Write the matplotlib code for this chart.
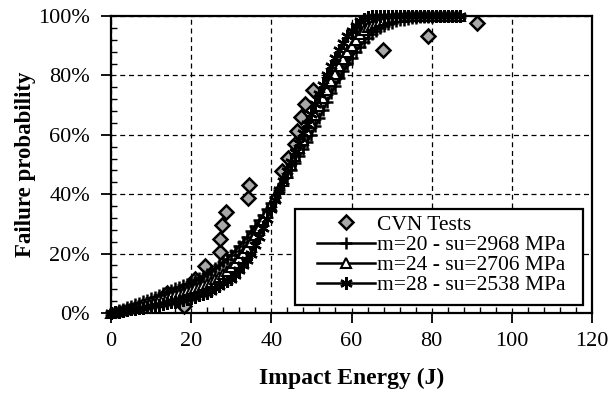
import matplotlib
matplotlib.use("Agg")
import matplotlib.pyplot as plt
from matplotlib.ticker import MultipleLocator, PercentFormatter
from matplotlib.patches import Rectangle

# ---- data ----
energy = list(range(0, 88))  # J

p_m20 = [0, 0.5, 1.0, 1.5, 2.0, 2.5, 3.0, 3.5, 4.0, 4.5,
         5.0, 5.5, 6.0, 6.6, 7.1, 7.7, 8.3, 8.8, 9.4, 9.9,
         10.5, 11.1, 11.8, 12.5, 13.2, 14.0, 15.0, 16.0, 17.1, 18.3,
         19.5, 21.0, 22.5, 24.0, 25.7, 27.5, 29.3, 31.2, 33.1, 35.0,
         37.0, 39.2, 41.4, 43.6, 45.8, 48.0, 50.4, 52.8, 55.2, 57.6,
         60.0, 62.8, 65.6, 68.4, 71.2, 74.0, 76.5, 79.0, 81.5, 83.8,
         86.0, 87.9, 89.6, 91.2, 92.7, 94.0, 95.1, 96.0, 96.7, 97.3,
         97.8, 98.2, 98.5, 98.8, 99.0, 99.2, 99.4, 99.5, 99.6, 99.7,
         99.8, 99.85, 99.9, 99.95, 100, 100, 100, 100]

p_m24 = [0, 0.35, 0.7, 1.1, 1.45, 1.8, 2.15, 2.5, 2.9, 3.25,
         3.6, 4.0, 4.4, 4.8, 5.2, 5.6, 6.0, 6.4, 6.9, 7.3,
         7.8, 8.3, 8.8, 9.4, 9.9, 10.5, 11.3, 12.2, 13.2, 14.3,
         15.5, 17.0, 18.5, 20.2, 22.0, 24.0, 26.3, 28.7, 31.2, 33.8,
         36.5, 39.2, 41.9, 44.6, 47.3, 50.0, 52.8, 55.6, 58.4, 61.2,
         64.0, 66.8, 69.6, 72.4, 75.2, 78.0, 80.5, 83.0, 85.4, 87.8,
         90.0, 92.0, 93.8, 95.2, 96.2, 97.0, 97.7, 98.3, 98.8, 99.1,
         99.4, 99.6, 99.7, 99.8, 99.85, 99.9, 99.95, 100, 100, 100,
         100, 100, 100, 100, 100, 100, 100, 100]

p_m28 = [0, 0.25, 0.5, 0.7, 0.95, 1.2, 1.4, 1.65, 1.85, 2.1,
         2.3, 2.55, 2.8, 3.05, 3.3, 3.6, 3.85, 4.1, 4.4, 4.7,
         5.0, 5.4, 5.9, 6.4, 6.9, 7.5, 8.3, 9.1, 10.0, 10.7,
         11.5, 12.9, 14.5, 16.2, 18.0, 20.0, 22.8, 25.7, 28.7, 31.8,
         35.0, 38.2, 41.4, 44.6, 47.8, 51.0, 54.2, 57.4, 60.6, 63.8,
         67.0, 70.3, 73.6, 76.8, 80.0, 83.0, 85.8, 88.5, 91.0, 93.2,
         95.0, 96.8, 98.3, 99.1, 99.6, 99.85, 100, 100, 100, 100,
         100, 100, 100, 100, 100, 100, 100, 100, 100, 100,
         100, 100, 100, 100, 100, 100, 100, 100]

cvn_energy = [18.3, 14.0, 21.0, 23.5, 27.2, 27.2, 27.7, 28.7, 34.3, 34.5, 42.7,
              44.1, 45.8, 46.3, 47.3, 48.5, 50.3, 56.0, 58.0, 67.8, 79.1, 91.3]
cvn_prob = [2.3, 6.8, 11.4, 15.9, 20.5, 25.0, 29.5, 34.1, 38.6, 43.2, 47.7,
            52.3, 56.8, 61.4, 65.9, 70.5, 75.0, 79.5, 84.1, 88.6, 93.2, 97.7]

series_labels = ["CVN Tests", "m=20 - su=2968 MPa", "m=24 - su=2706 MPa", "m=28 - su=2538 MPa"]

x_ticks = [0, 20, 40, 60, 80, 100, 120]
y_ticks = [0, 20, 40, 60, 80, 100]

# ---- figure ----
plt.rcParams['font.family'] = ['Liberation Serif', 'DejaVu Serif']
fig = plt.figure(figsize=(6.13, 3.98), dpi=100)
ax = fig.add_axes([111 / 613, 1 - 313 / 398, 481 / 613, 297 / 398])

ax.plot(cvn_energy, cvn_prob, linestyle='none', marker='D', ms=7.5,
        mfc='#a8a8a8', mec='black', mew=1.8, zorder=3, label=series_labels[0],
        clip_on=False)
ax.plot(energy, p_m20, color='black', lw=1.8, marker='+', ms=9, mew=1.8,
        zorder=4, label=series_labels[1], clip_on=False)
ax.plot(energy, p_m24, color='black', lw=1.8, marker='^', ms=6.5, mew=1.5,
        mfc='white', mec='black', zorder=4, label=series_labels[2], clip_on=False)
ax.plot(energy, p_m28, color='black', lw=1.8, marker=(6, 2, 0), ms=9, mew=1.7,
        zorder=4, label=series_labels[3], clip_on=False)

ax.set_xlim(0, 120)
ax.set_ylim(0, 100)
ax.set_xticks(x_ticks)
ax.set_yticks(y_ticks)
ax.xaxis.set_minor_locator(MultipleLocator(4))
ax.yaxis.set_minor_locator(MultipleLocator(4))
ax.yaxis.set_major_formatter(PercentFormatter(decimals=0))

ax.tick_params(which='major', direction='out', length=7, width=1.3,
               labelsize=16, pad=7, colors='black')
ax.tick_params(axis='y', which='major', pad=8)
ax.tick_params(which='minor', direction='in', length=4, width=1.0)
ax.tick_params(top=False, right=False, which='both')

ax.grid(True, which='major', color='black', linestyle=(0, (4, 3)), lw=0.9)
ax.set_axisbelow(True)
for s in ax.spines.values():
    s.set_linewidth(1.6)
    s.set_color('black')

ax.set_xlabel("Impact Energy (J)", fontsize=17, fontweight='bold', labelpad=12)
ax.set_ylabel("Failure probability", fontsize=16.5, fontweight='bold', labelpad=2)

# legend box (white, black border) in axes fraction
box = Rectangle((0.3825, 0.027), 0.5985, 0.323, transform=ax.transAxes,
                facecolor='white', edgecolor='black', lw=1.6, zorder=9,
                clip_on=False)
ax.add_patch(box)
leg = ax.legend(loc='center', bbox_to_anchor=(0.687, 0.195), fontsize=15.5,
                frameon=False, handlelength=2.7, handletextpad=0.1,
                borderpad=0, labelspacing=0.0, borderaxespad=0)
leg.set_zorder(10)

fig.savefig("out.png", dpi=100)
